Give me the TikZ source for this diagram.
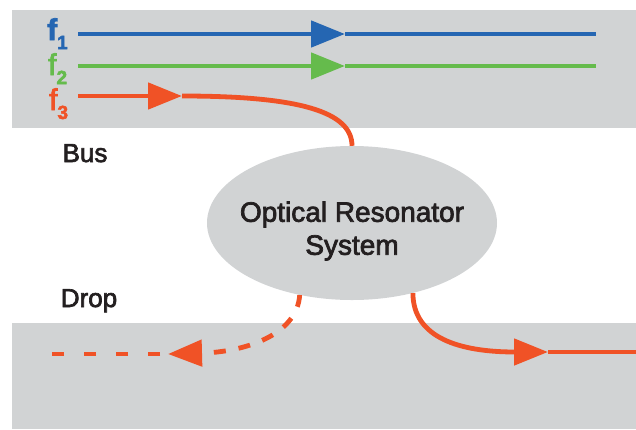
\documentclass[tikz,border=0pt]{standalone}
\usepackage{fontspec}
\setmainfont{Liberation Sans}
\newfontfamily\medfont{Liberation Sans}[FakeBold=2.6]
\usetikzlibrary{arrows.meta,positioning,shapes.geometric}
\definecolor{busblue}{RGB}{37,102,178}
\definecolor{busgreen}{RGB}{101,187,76}
\definecolor{dropred}{RGB}{240,82,38}
\definecolor{panelgray}{RGB}{209,211,212}
\definecolor{inkblack}{RGB}{35,31,32}

\begin{document}
\begin{tikzpicture}[x=1pt, y=-1pt]
 \tikzset{
beam/.style = {line width=4.8pt},
tip/.style = {-{Triangle[length=34pt,width=26pt]}},
label/.style = {anchor=base, text=inkblack, font=\medfont\fontsize{26}{26}\selectfont},
freq/.style = {anchor=base west, inner sep=0pt, font=\medfont\fontsize{30}{30}\selectfont},
resonator/.style = {ellipse, fill=panelgray, minimum width=290pt, minimum height=154pt}}

\useasboundingbox (0,0) rectangle (636,429);

    % bus and drop waveguides
    \fill [panelgray] (12,10) rectangle (636,128);
    \fill [panelgray] (12,323) rectangle (636,429);

    \node [resonator] (res) at (352,223) {};
    \node [align=center, text=inkblack, font=\medfont\fontsize{28}{33}\selectfont] (restext) at (352,231) {Optical Resonator\\System};

    \node [label] (bus) at (85,162) {Bus};
    \node [label] (drop) at (89,307) {Drop};

    \newcommand\subidx[1]{\raisebox{-9pt}{\fontsize{19}{19}\selectfont\bfseries #1}}
    \node [freq, text=busblue] (f1) at (47,40) {\bfseries f\subidx{1}};
    \node [freq, text=busgreen] (f2) at (48,75) {f\subidx{2}};
    \node [freq, text=dropred] (f3) at (49,110) {f\subidx{3}};

      \coordinate (f1in) at (78,34);
      \coordinate (f1mid) at (345,34);
      \coordinate (f1out) at (596,34);
      \coordinate (f2in) at (78,66);
      \coordinate (f2mid) at (345,66);
      \coordinate (f2out) at (596,66);
      \coordinate (f3in) at (78,96);
      \coordinate (f3mid) at (182,96);
      \coordinate (dropmid) at (168,354);
      \coordinate (dropout) at (50,354);
      \coordinate (addmid) at (548,352);
      \coordinate (addout) at (636,352);

      \draw [beam, busblue, tip] (f1in) -- (f1mid);
      \draw [beam, busblue] (f1mid) -- (f1out);
      \draw [beam, busgreen, tip] (f2in) -- (f2mid);
      \draw [beam, busgreen] (f2mid) -- (f2out);

      \draw [beam, dropred, tip] (f3in) -- (f3mid);
      \draw [beam, dropred] (f3mid) .. controls (300,96) and (352,112) .. (res.north);

      \draw [beam, dropred, tip, dash pattern=on 12pt off 13pt] (res.234) .. controls (297,335) and (245,352) .. (dropmid);
      \draw [beam, dropred, dash pattern=on 12pt off 20pt] (dropmid) ++(-8,0) -- (dropout);

      \draw [beam, dropred, tip] (res.311) .. controls (413,338) and (460,352) .. (addmid);
      \draw [beam, dropred] (addmid) -- (addout);

  \end{tikzpicture}
\end{document}
